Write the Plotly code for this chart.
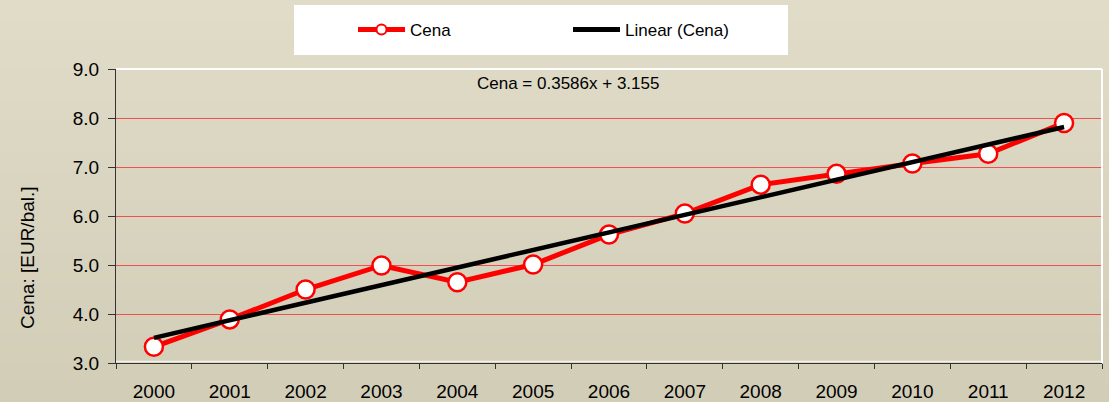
import plotly.graph_objects as go

# data
years = ["2000", "2001", "2002", "2003", "2004", "2005", "2006",
         "2007", "2008", "2009", "2010", "2011", "2012"]
cena = [3.33, 3.89, 4.50, 4.99, 4.65, 5.01, 5.62, 6.05, 6.64, 6.86, 7.07, 7.27, 7.90]

# excel linear trendline, x counted from 1
trend_slope = 0.3586
trend_intercept = 3.155
trend = [trend_slope * (i + 1) + trend_intercept for i in range(len(years))]

y_ticks = [3, 4, 5, 6, 7, 8, 9]

FONT = "Liberation Sans, Arial, sans-serif"
RED = "#FF0000"

fig_width, fig_height = 1109, 402
m_l, m_r, m_t, m_b = 116, 7, 69, 39
plot_w = fig_width - m_l - m_r
plot_h = fig_height - m_t - m_b


def px_x(px):
    """pixel column -> paper x"""
    return (px - m_l) / plot_w


def px_y(py):
    """pixel row -> paper y"""
    return (fig_height - m_b - py) / plot_h


fig = go.Figure()

fig.add_trace(go.Scatter(
    x=years, y=cena, name="Cena", mode="lines+markers", showlegend=False,
    line=dict(color=RED, width=5),
    marker=dict(size=18, color="white", line=dict(color=RED, width=2.5)),
))
fig.add_trace(go.Scatter(
    x=years, y=trend, name="Linear (Cena)", mode="lines", showlegend=False,
    line=dict(color="black", width=4.5),
))

# legend-only entries, so the legend marker can stay small like excel's
fig.add_trace(go.Scatter(
    x=[None], y=[None], name="Cena", mode="lines+markers",
    line=dict(color=RED, width=5),
    marker=dict(size=10, color="white", line=dict(color=RED, width=2)),
))
fig.add_trace(go.Scatter(
    x=[None], y=[None], name="Linear (Cena)", mode="lines",
    line=dict(color="black", width=5),
))

# khaki background, faked gradient with thin bands
top_c = (224, 220, 200)
bot_c = (210, 205, 183)
n_bands = 40
for i in range(n_bands):
    t = i / (n_bands - 1)
    c = [round(top_c[k] + (bot_c[k] - top_c[k]) * t) for k in range(3)]
    fig.add_shape(type="rect", xref="paper", yref="paper", layer="below",
                  x0=px_x(-5), x1=px_x(fig_width + 5),
                  y0=px_y(fig_height * (i + 1) / n_bands + 1), y1=px_y(fig_height * i / n_bands),
                  line=dict(width=0), fillcolor=f"rgb({c[0]},{c[1]},{c[2]})")

# white legend box
fig.add_shape(type="rect", xref="paper", yref="paper", layer="below",
              x0=px_x(294), x1=px_x(788), y0=px_y(55), y1=px_y(5),
              line=dict(width=0), fillcolor="white")

# white plot-area border top / right, faint one just above the x axis
fig.add_shape(type="line", xref="paper", yref="paper", layer="above",
              x0=0, x1=1, y0=1, y1=1, line=dict(color="white", width=2))
fig.add_shape(type="line", xref="paper", yref="paper", layer="above",
              x0=1, x1=1, y0=0, y1=1, line=dict(color="white", width=2))
fig.add_shape(type="line", xref="paper", yref="paper", layer="below",
              x0=0, x1=1, y0=1.5 / plot_h, y1=1.5 / plot_h,
              line=dict(color="rgba(255,255,255,0.7)", width=1.5))

fig.add_annotation(x=px_x(568), y=px_y(83), xref="paper", yref="paper",
                   xanchor="center", yanchor="middle",
                   text="Cena = 0.3586x + 3.155", showarrow=False,
                   font=dict(family=FONT, size=17, color="black"))
fig.add_annotation(x=px_x(27), y=px_y(258), xref="paper", yref="paper",
                   xanchor="center", yanchor="middle",
                   text="Cena: [EUR/bal.]", textangle=-90, showarrow=False,
                   font=dict(family=FONT, size=19, color="black"))

fig.update_layout(
    width=fig_width, height=fig_height,
    margin=dict(l=m_l, r=m_r, t=m_t, b=m_b),
    paper_bgcolor="rgba(0,0,0,0)", plot_bgcolor="rgba(0,0,0,0)",
    font=dict(family=FONT, color="black"),
    legend=dict(orientation="h", x=px_x(353), xanchor="left",
                y=px_y(30), yanchor="middle", bgcolor="rgba(0,0,0,0)",
                itemwidth=47, entrywidth=153, font=dict(size=17)),
    xaxis=dict(type="category", range=[-0.5, 12.5], tickson="boundaries",
               ticks="outside", ticklen=5, tickcolor="#333", showgrid=False,
               showline=True, linecolor="#333", linewidth=1,
               ticklabelstandoff=11, automargin=False,
               tickfont=dict(size=19), fixedrange=True),
    yaxis=dict(range=[3, 9], tickvals=y_ticks, tickformat=".1f",
               ticks="outside", ticklen=7, tickcolor="#333",
               showgrid=True, gridcolor="#F05050", gridwidth=1, zeroline=False,
               showline=True, linecolor="#333", linewidth=1,
               ticklabelstandoff=5, automargin=False,
               tickfont=dict(size=19), fixedrange=True),
)

# drop the default page margin so the chart sits at 0,0
fig.write_html("out.html", config={"displayModeBar": False},
               post_script="document.body.style.margin = '0';")
